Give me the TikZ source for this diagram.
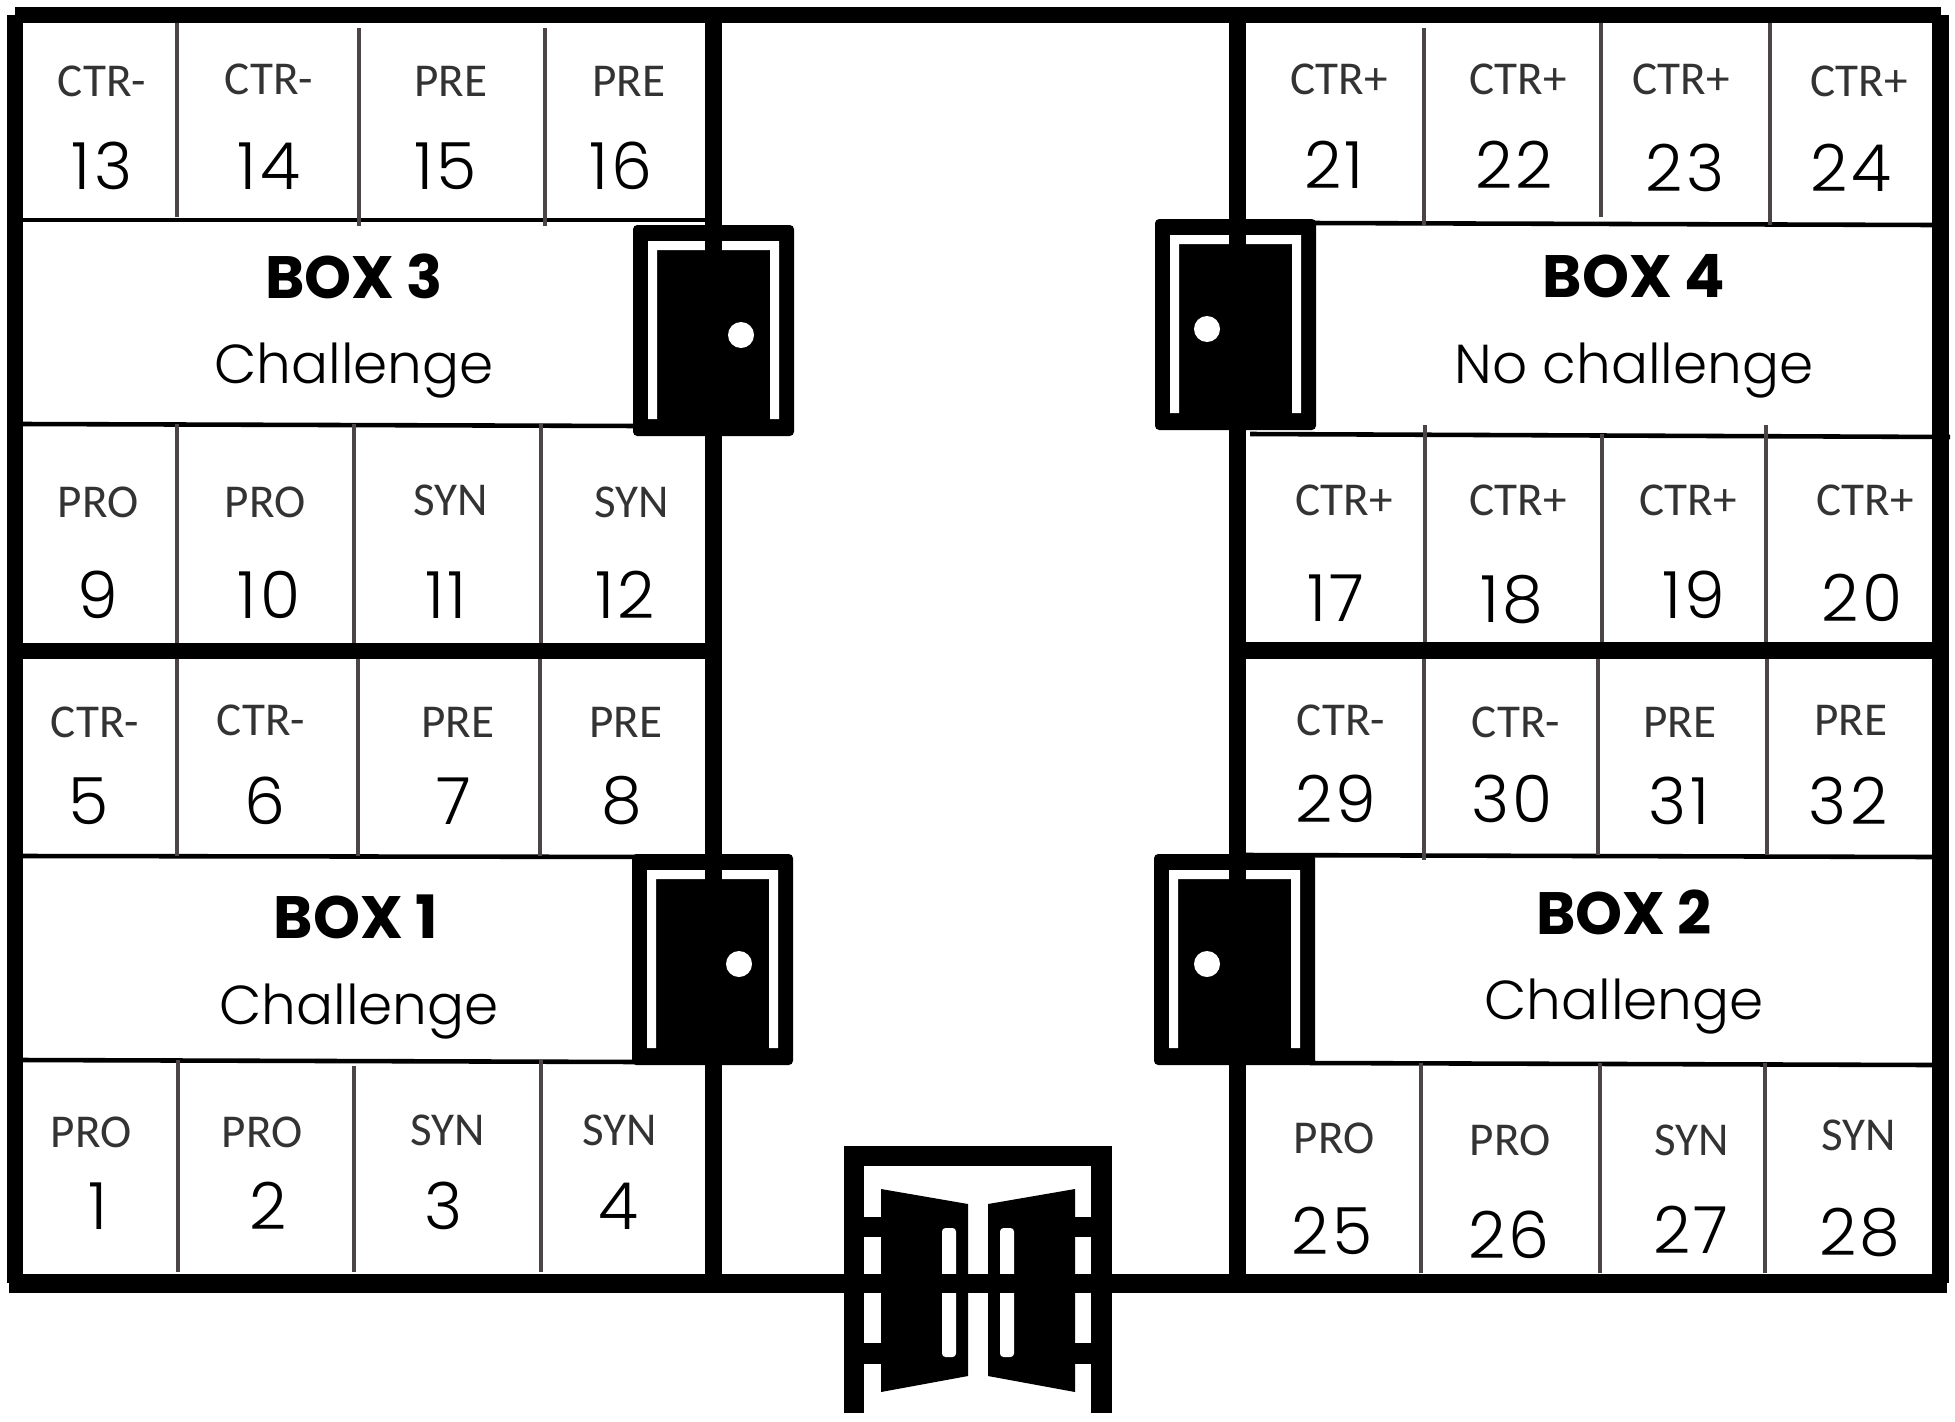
\documentclass[tikz,border=0pt]{standalone}
\usepackage{fontspec}
\setmainfont{Carlito}
\newfontfamily\numfont[LetterSpace=5]{Poppins Light}
\newfontfamily\kindfont{Poppins Light}
\newfontfamily\titlefont{Poppins Bold}
\definecolor{partgray}{HTML}{4D4545}
\tikzset{
	wall/.style={line width=4.6pt},
	floorwall/.style={line width=5.6pt},
	shelf/.style={line width=1.3pt},
	part/.style={line width=1.05pt, partgray},
	tag/.style={font=\fontsize{13.4}{16}\selectfont, text=black!80, inner sep=0pt},
	num/.style={font=\numfont\fontsize{18.5}{20}\selectfont, inner sep=0pt},
	boxname/.style={font=\titlefont\fontsize{17}{20}\selectfont, inner sep=0pt},
	boxkind/.style={font=\kindfont\fontsize{15.6}{20}\selectfont, inner sep=0pt},
}
\newcommand{\sidedoor}[3]{
	\fill[rounded corners=1.2pt, shift={(#1,#2)}] (0,0) rectangle (161,211);
	\fill[white, shift={(#1,#2)}] (15,194) -- (15,16) -- (146,16) -- (146,194) -- (137,194) -- (137,25) -- (24,25) -- (24,194) -- cycle;
	\fill[white, shift={(#1,#2)}] (#3,110) circle [radius=13];
}
\begin{document}
\begin{tikzpicture}[x=0.01cm, y=-0.01cm]

	\useasboundingbox[fill=white] (0,0) rectangle (1955,1421);

	\draw[shelf] (23,220) -- (705,220);
	\draw[shelf] (23,424) -- (640,426);
	\draw[shelf] (23,856) -- (705,857);
	\draw[shelf] (23,1060) -- (640,1062);
	\draw[shelf] (1310,223) -- (1933,225);
	\draw[shelf] (1250,434) -- (1950,437);
	\draw[shelf] (1246,855) -- (1933,857);
	\draw[shelf] (1310,1063) -- (1933,1065);

	\draw[part] (177,15) -- (177,217);
	\draw[part] (359,28) -- (359,226);
	\draw[part] (545,28) -- (545,226);
	\draw[part] (177,424) -- (177,643);
	\draw[part] (354,424) -- (354,643);
	\draw[part] (541,424) -- (541,643);
	\draw[part] (177,659) -- (177,856);
	\draw[part] (358,659) -- (358,856);
	\draw[part] (540,659) -- (540,856);
	\draw[part] (178,1060) -- (178,1272);
	\draw[part] (354,1066) -- (354,1272);
	\draw[part] (541,1060) -- (541,1272);

	\draw[part] (1424,28) -- (1424,225);
	\draw[part] (1601,15) -- (1601,217);
	\draw[part] (1770,15) -- (1770,225);
	\draw[part] (1425,425) -- (1425,642);
	\draw[part] (1602,434) -- (1602,642);
	\draw[part] (1766,425) -- (1766,642);
	\draw[part] (1424,659) -- (1424,860);
	\draw[part] (1598,655) -- (1598,855);
	\draw[part] (1767,655) -- (1767,855);
	\draw[part] (1421,1063) -- (1421,1273);
	\draw[part] (1600,1063) -- (1600,1273);
	\draw[part] (1765,1063) -- (1765,1273);

	\sidedoor{633}{225}{108}
	\sidedoor{1155}{219}{52}
	\sidedoor{632}{854}{107}
	\sidedoor{1154}{854}{53}

	\draw[wall, line cap=square] (15,15) -- (1940.5,15);
	\draw[wall, line cap=square] (15,15) -- (15,1283);
	\draw[wall, line cap=square] (1940.5,15) -- (1940.5,1283);
	\draw[wall] (713.5,15) -- (713.5,1283);
	\draw[wall] (1237.5,15) -- (1237.5,1283);
	\draw[wall] (15,651) -- (713.5,651);
	\draw[wall] (1237.5,650.5) -- (1940.5,650.5);
	\draw[floorwall] (9,1283.5) -- (1947,1283.5);

	\draw[line width=5.7pt] (854,1413) -- (854,1156) -- (1101.5,1156) -- (1101.5,1413);
	\fill (864,1217) rectangle (881,1237);
	\fill (864,1343) rectangle (881,1364);
	\fill (1075,1217) rectangle (1091,1237);
	\fill (1075,1343) rectangle (1091,1364);
	\fill (881,1189) -- (968,1204) -- (968,1376) -- (881,1392) -- cycle;
	\fill (988,1204) -- (1075,1189) -- (1075,1392) -- (988,1376) -- cycle;
	\fill[white, rounded corners=1pt] (942,1228) rectangle (956,1357);
	\fill[white, rounded corners=1pt] (1000,1228) rectangle (1014,1357);
	\draw[line width=5.3pt] (854,1283.5) -- (1101.5,1283.5);

	\node[tag] (tag13) at (102,81) {CTR-};
	\node[tag] (tag14) at (269,79) {CTR-};
	\node[tag] (tag15) at (451,81) {PRE};
	\node[tag] (tag16) at (629,81) {PRE};
	\node[num] (num13) at (102,166) {13};
	\node[num] (num14) at (269,166) {14};
	\node[num] (num15) at (446,166) {15};
	\node[num] (num16) at (621,166) {16};

	\node[tag] (tag9) at (98,502) {PRO};
	\node[tag] (tag10) at (265,502) {PRO};
	\node[tag] (tag11) at (451,500) {SYN};
	\node[tag] (tag12) at (632,502) {SYN};
	\node[num] (num9) at (98,595) {9};
	\node[num] (num10) at (269,595) {10};
	\node[num] (num11) at (446,595) {11};
	\node[num] (num12) at (625,595) {12};

	\node[tag] (tag5) at (95,722) {CTR-};
	\node[tag] (tag6) at (261,720) {CTR-};
	\node[tag] (tag7) at (458,722) {PRE};
	\node[tag] (tag8) at (626,722) {PRE};
	\node[num] (num5) at (89,801) {5};
	\node[num] (num6) at (265,801) {6};
	\node[num] (num7) at (454,801) {7};
	\node[num] (num8) at (622,801) {8};

	\node[tag] (tag1) at (91,1132) {PRO};
	\node[tag] (tag2) at (262,1132) {PRO};
	\node[tag] (tag3) at (448,1130) {SYN};
	\node[tag] (tag4) at (620,1130) {SYN};
	\node[num] (num1) at (98,1206) {1};
	\node[num] (num2) at (268,1206) {2};
	\node[num] (num3) at (444,1206) {3};
	\node[num] (num4) at (618,1206) {4};

	\node[tag] (tag21) at (1339,79) {CTR+};
	\node[tag] (tag22) at (1518,79) {CTR+};
	\node[tag] (tag23) at (1681,79) {CTR+};
	\node[tag] (tag24) at (1859,81) {CTR+};
	\node[num] (num21) at (1334,165) {21};
	\node[num] (num22) at (1514,165) {22};
	\node[num] (num23) at (1685,168) {23};
	\node[num] (num24) at (1851,168) {24};

	\node[tag] (tag17) at (1344,500) {CTR+};
	\node[tag] (tag18) at (1518,500) {CTR+};
	\node[tag] (tag19) at (1688,500) {CTR+};
	\node[tag] (tag20) at (1865,500) {CTR+};
	\node[num] (num17) at (1336,598) {17};
	\node[num] (num18) at (1512,600) {18};
	\node[num] (num19) at (1694,595) {19};
	\node[num] (num20) at (1862,598) {20};

	\node[tag] (tag29) at (1341,720) {CTR-};
	\node[tag] (tag30) at (1516,722) {CTR-};
	\node[tag] (tag31) at (1680,722) {PRE};
	\node[tag] (tag32) at (1851,720) {PRE};
	\node[num] (num29) at (1336,799) {29};
	\node[num] (num30) at (1512,799) {30};
	\node[num] (num31) at (1679,801) {31};
	\node[num] (num32) at (1848,801) {32};

	\node[tag] (tag25) at (1334,1138) {PRO};
	\node[tag] (tag26) at (1510,1140) {PRO};
	\node[tag] (tag27) at (1692,1140) {SYN};
	\node[tag] (tag28) at (1859,1135) {SYN};
	\node[num] (num25) at (1332,1231) {25};
	\node[num] (num26) at (1509,1235) {26};
	\node[num] (num27) at (1691,1230) {27};
	\node[num] (num28) at (1860,1232) {28};

	\node[boxname] (box3) at (354,276) {BOX 3};
	\node[boxkind] (kind3) at (354,371) {Challenge};
	\node[boxname] (box4) at (1634,276) {BOX 4};
	\node[boxkind] (kind4) at (1634,371) {No challenge};
	\node[boxname] (box1) at (356,917) {BOX 1};
	\node[boxkind] (kind1) at (359,1012) {Challenge};
	\node[boxname] (box2) at (1624,912) {BOX 2};
	\node[boxkind] (kind2) at (1624,1007) {Challenge};

\end{tikzpicture}
\end{document}
